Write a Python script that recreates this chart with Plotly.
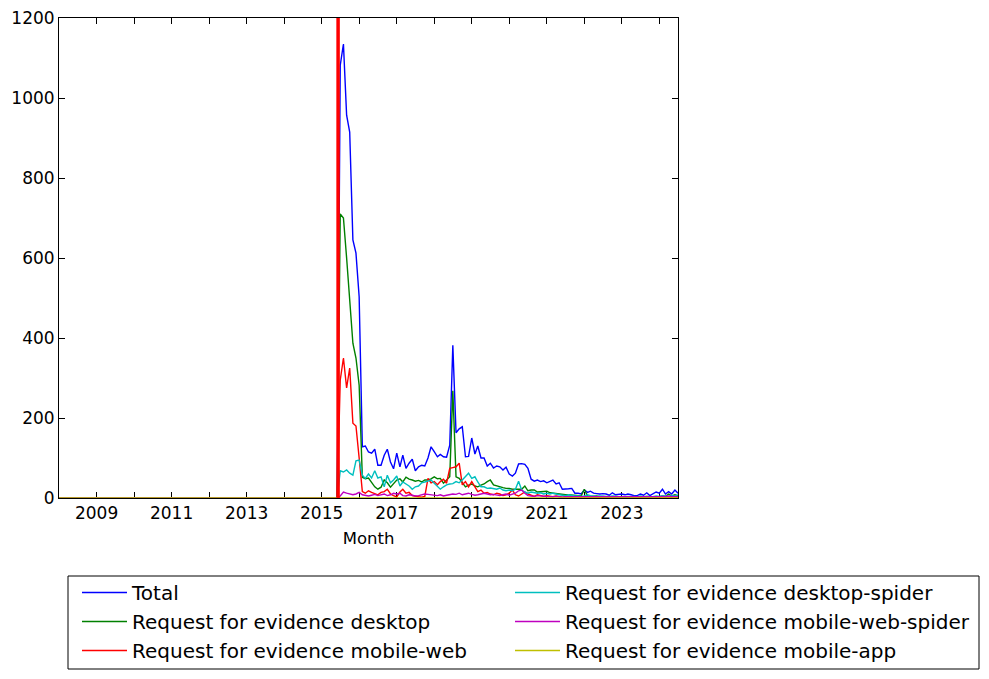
import pandas as pd
import plotly.graph_objects as go

# Monthly axis: Jan 2008 .. Jul 2024
months = pd.date_range("2008-01-01", "2024-07-01", freq="MS")

# Jan 2008 .. Jun 2015: no traffic recorded
pre_launch = [
    0, 0, 0, 0, 0, 0, 0, 0, 0, 0, 0, 0,
    0, 0, 0, 0, 0, 0, 0, 0, 0, 0, 0, 0,
    0, 0, 0, 0, 0, 0, 0, 0, 0, 0, 0, 0,
    0, 0, 0, 0, 0, 0, 0, 0, 0, 0, 0, 0,
    0, 0, 0, 0, 0, 0, 0, 0, 0, 0, 0, 0,
    0, 0, 0, 0, 0, 0, 0, 0, 0, 0, 0, 0,
    0, 0, 0, 0, 0, 0, 0, 0, 0, 0, 0, 0,
    0, 0, 0, 0, 0, 0,
]

# Jul 2015 .. Jul 2024
total = [
    1082, 1135, 957, 915, 645, 612,
    503, 128, 130, 115, 112, 122, 82, 82, 107, 122, 90, 73,
    112, 78, 107, 74, 87, 97, 68, 78, 82, 80, 100, 128,
    116, 103, 109, 103, 102, 132, 382, 163, 173, 178, 103, 104,
    150, 110, 130, 100, 100, 80, 87, 75, 80, 78, 70, 77,
    60, 55, 62, 85, 86, 84, 74, 47, 42, 45, 41, 43,
    38, 42, 45, 35, 38, 22, 22, 23, 24, 12, 12, 10,
    20, 14, 17, 12, 11, 10, 11, 10, 7, 13, 8, 9,
    10, 8, 10, 8, 6, 6, 10, 7, 13, 6, 10, 15,
    12, 22, 10, 16, 10, 20, 12,
]
desktop = [
    710, 700, 600, 505, 387, 350,
    282, 52, 48, 50, 38, 28, 22, 27, 45, 38, 27, 35,
    45, 48, 40, 52, 47, 45, 42, 44, 40, 45, 45, 48,
    53, 48, 49, 37, 45, 53, 268, 53, 49, 37, 28, 32,
    35, 30, 28, 32, 35, 41, 45, 33, 30, 28, 26, 24,
    24, 22, 22, 22, 22, 30, 18, 20, 20, 15, 16, 17,
    17, 13, 12, 10, 10, 9, 8, 8, 7, 6, 6, 5,
    22, 5, 4, 4, 5, 3, 4, 3, 4, 3, 4, 3,
    3, 4, 3, 3, 4, 3, 2, 3, 4, 3, 3, 4,
    3, 5, 4, 10, 5, 8, 6,
]
mobile_web = [
    295, 350, 275, 325, 187, 180,
    100, 16, 12, 18, 14, 10, 8, 14, 16, 22, 10, 6,
    3, 15, 22, 12, 14, 6, 4, 3, 2, 4, 49, 38,
    41, 33, 41, 47, 37, 74, 76, 78, 87, 33, 41, 28,
    41, 28, 16, 20, 12, 14, 10, 8, 12, 10, 6, 8,
    12, 20, 8, 5, 10, 15, 10, 6, 4, 8, 5, 4,
    6, 4, 3, 5, 3, 2, 3, 2, 2, 3, 2, 2,
    3, 2, 2, 1, 2, 2, 1, 2, 1, 2, 1, 2,
    1, 2, 1, 2, 1, 1, 2, 1, 2, 1, 2, 1,
    2, 3, 2, 3, 2, 3, 2,
]
desktop_spider = [
    68, 65, 70, 62, 57, 93,
    95, 57, 49, 60, 50, 68, 50, 53, 28, 57, 38, 45,
    55, 30, 40, 35, 30, 22, 28, 30, 38, 40, 43, 45,
    37, 28, 22, 28, 33, 35, 36, 41, 38, 45, 55, 62,
    49, 53, 40, 28, 28, 24, 25, 24, 22, 25, 20, 18,
    20, 18, 22, 42, 20, 15, 12, 15, 14, 12, 13, 10,
    12, 10, 12, 9, 8, 7, 6, 8, 6, 5, 5, 4,
    5, 8, 6, 5, 4, 5, 4, 4, 3, 5, 4, 3,
    4, 3, 4, 3, 4, 3, 5, 3, 4, 4, 3, 5,
    4, 6, 5, 4, 6, 5, 8,
]
mobile_web_spider = [
    5, 15, 12, 10, 8, 10,
    14, 8, 6, 5, 7, 9, 6, 8, 10, 6, 8, 12,
    10, 12, 6, 5, 8, 7, 5, 6, 8, 10, 9, 8,
    7, 6, 8, 5, 7, 8, 10, 9, 12, 8, 10, 12,
    9, 7, 8, 10, 12, 10, 8, 9, 7, 6, 8, 10,
    7, 9, 12, 18, 20, 12, 6, 5, 4, 6, 5, 4,
    4, 3, 3, 4, 3, 2, 3, 3, 2, 3, 2, 2,
    2, 3, 2, 2, 3, 2, 2, 3, 2, 2, 3, 2,
    2, 3, 2, 2, 3, 2, 3, 2, 2, 3, 2, 3,
    3, 4, 3, 5, 3, 4, 3,
]
mobile_app = [
    0, 0, 0, 0, 0, 0,
    0, 0, 0, 0, 0, 0, 0, 0, 0, 0, 0, 0,
    0, 0, 0, 0, 0, 0, 0, 0, 0, 0, 0, 0,
    0, 0, 0, 0, 0, 0, 1, 0, 0, 0, 0, 0,
    0, 0, 0, 0, 0, 0, 0, 0, 0, 0, 0, 0,
    0, 0, 0, 1, 0, 0, 0, 0, 0, 0, 0, 0,
    0, 0, 0, 0, 0, 0, 0, 0, 0, 0, 0, 0,
    0, 0, 0, 0, 0, 0, 0, 0, 0, 0, 0, 0,
    0, 0, 0, 0, 0, 0, 0, 0, 0, 0, 0, 0,
    0, 0, 0, 0, 0, 0, 0,
]

# Launch marker (red vertical rule)
marker_date = "2015-06-10"

series_names = [
    "Total",
    "Request for evidence desktop",
    "Request for evidence mobile-web",
    "Request for evidence desktop-spider",
    "Request for evidence mobile-web-spider",
    "Request for evidence mobile-app",
]
series_values = [total, desktop, mobile_web, desktop_spider, mobile_web_spider, mobile_app]
colors = ["#0000ff", "#008000", "#ff0000", "#00bfbf", "#bf00bf", "#bfbf00"]
legend_ids = ["legend", "legend", "legend", "legend2", "legend2", "legend2"]

year_ticks = list(range(2008, 2025))
tick_vals = [f"{y}-01-01" for y in year_ticks]
tick_text = [str(y) if y % 2 == 1 else "" for y in year_ticks]

fig = go.Figure()
for name, vals, col, lg in zip(series_names, series_values, colors, legend_ids):
    fig.add_trace(go.Scatter(
        x=months, y=pre_launch + vals, mode="lines", name=name,
        line=dict(color=col, width=1.4), legend=lg,
    ))

fig.add_vline(x=marker_date, line=dict(color="#ff0000", width=3.5), layer="above")

# page is offset by the default 8px body margin
OFF = 8
W, H = 989 - OFF, 679 - OFF
L, R, T, B = 59 - OFF, 678 - OFF, 18 - OFF, 498 - OFF
pw, ph = R - L, B - T

def px_x(v):
    return (v - OFF - L) / pw

def px_y(v):
    return (B - (v - OFF)) / ph

# legend frame
fig.add_shape(type="rect", xref="paper", yref="paper",
              x0=px_x(68), x1=px_x(979), y0=px_y(669), y1=px_y(576),
              line=dict(color="black", width=1), fillcolor="rgba(0,0,0,0)")

font = "DejaVu Sans, Liberation Sans, sans-serif"
axis_common = dict(
    showline=True, linecolor="black", linewidth=1, mirror="ticks",
    ticks="inside", ticklen=6, tickcolor="black", tickwidth=1,
    showgrid=False, zeroline=False, layer="below traces",
    ticklabeloverflow="allow",
    tickfont=dict(family=font, size=17, color="black"),
)

ITEMW = 45
fig.update_layout(
    width=W, height=H,
    margin=dict(l=L, r=W - R, t=T, b=H - B, autoexpand=False),
    paper_bgcolor="white", plot_bgcolor="white",
    font=dict(family=font, color="black"),
    xaxis=dict(
        type="date", range=["2008-01-01", "2024-07-01"],
        tickmode="array", tickvals=tick_vals, ticktext=tick_text,
        title=dict(text="Month", font=dict(family=font, size=16.5), standoff=10),
        **axis_common,
    ),
    yaxis=dict(
        range=[0, 1200], tickmode="array", tickvals=[0, 200, 400, 600, 800, 1000, 1200],
        **axis_common,
    ),
    legend=dict(
        xref="container", yref="container", x=(132 - ITEMW - 10 - OFF) / W, y=1 - (573 - OFF) / H,
        xanchor="left", yanchor="top", bgcolor="rgba(0,0,0,0)", borderwidth=0,
        font=dict(family=font, size=20, color="black"), tracegroupgap=0, itemwidth=ITEMW,
    ),
    legend2=dict(
        xref="container", yref="container", x=(565 - ITEMW - 10 - OFF) / W, y=1 - (573 - OFF) / H,
        xanchor="left", yanchor="top", bgcolor="rgba(0,0,0,0)", borderwidth=0,
        font=dict(family=font, size=20, color="black"), tracegroupgap=0, itemwidth=ITEMW,
    ),
    showlegend=True,
)

fig.write_html("out.html")
